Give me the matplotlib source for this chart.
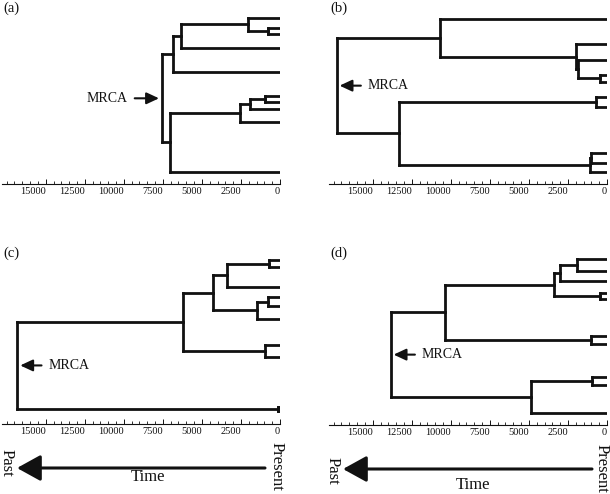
import matplotlib
matplotlib.use("Agg")
import matplotlib.pyplot as plt
from matplotlib.patches import FancyArrowPatch
from matplotlib.ticker import MultipleLocator

plt.rcParams['font.family'] = ['Liberation Serif', 'DejaVu Serif']

W, H = 610, 494
INK = '#111111'

# tip positions (vertical, rows inside each panel) and trees as (time, child, child, ...)
tips_a = [18, 28, 34, 48, 72, 96, 102, 109, 122, 172]
tree_a = (7570,
          (6870, (6340, (2030, 0, (750, 1, 2)), 3), 4),
          (7040, (2560, (1920, (960, 5, 6), 7), 8), 9))

tips_b = [19, 44, 60, 75, 82, 97, 107, 153, 163, 172]
tree_b = (17300,
          (10700, 0, (2000, 1, (1840, 2, (450, 3, 4)))),
          (13290, (700, 5, 6), (1090, (1020, 7, 8), 9)))

tips_c = [15, 22, 42, 52, 61, 74, 100, 112, 162, 166]
tree_c = (16810,
          (6230,
           (4270, (3410, (680, 0, 1), 2), (1450, (750, 3, 4), 5)),
           (960, 6, 7)),
          (130, 8, 9))

tips_d = [14, 26, 36, 48, 54, 91, 99, 132, 140, 168]
tree_d = (13840,
          (10370, (3370, (3010, (1920, 0, 1), 2), (450, 3, 4)), (1020, 5, 6)),
          (4860, (960, 7, 8), 9))

tick_values = [15000, 12500, 10000, 7500, 5000, 2500, 0]
tick_labels = ['15000', '12500', '10000', '7500', '5000', '2500', '0']

panels = [
    # label, tips, tree, left px, right px, top row, axis row, mrca text side
    ('(a)', tips_a, tree_a, 2, 280, 0, 184, 'left'),
    ('(b)', tips_b, tree_b, 329, 607, 0, 184, 'right'),
    ('(c)', tips_c, tree_c, 2, 280, 245, 424, 'right'),
    ('(d)', tips_d, tree_d, 329, 607, 245, 425, 'right'),
]

fig = plt.figure(figsize=(W / 100, H / 100), dpi=100)


def draw(ax, node, tips):
    """Draw a clade, return (time, y) of its node."""
    if isinstance(node, int):
        return 0, tips[node]
    t = node[0]
    kids = [draw(ax, k, tips) for k in node[1:]]
    ys = [k[1] for k in kids]
    for kt, ky in kids:
        ax.plot([t, kt], [ky, ky], color=INK, lw=2.0, solid_capstyle='projecting')
    ax.plot([t, t], [min(ys), max(ys)], color=INK, lw=2.0, solid_capstyle='projecting')
    return t, (min(ys) + max(ys)) / 2


for label, tips, tree, x0, x1, top, axrow, side in panels:
    ax = fig.add_axes([x0 / W, 1 - axrow / H, (x1 - x0) / W, (axrow - top - 2) / H])
    ax.set_xlim(17800, 0)
    ax.set_ylim(axrow - top, 2)
    root_t, root_y = draw(ax, tree, tips)

    for s in ['left', 'right', 'top']:
        ax.spines[s].set_visible(False)
    ax.spines['bottom'].set_linewidth(0.8)
    ax.spines['bottom'].set_color(INK)
    ax.set_yticks([])
    ax.set_xticks(tick_values)
    ax.set_xticklabels(tick_labels, fontsize=7.5, ha='right')
    ax.xaxis.set_minor_locator(MultipleLocator(500))
    ax.tick_params(axis='x', which='major', direction='in', length=3.5, width=0.7, pad=2.5, colors=INK)
    ax.tick_params(axis='x', which='minor', direction='in', length=2.2, width=0.6, colors=INK)

    if side == 'left':
        off, ha = -34, 'right'
    else:
        off, ha = 31, 'left'
    ax.annotate('MRCA', xy=(root_t, root_y), xytext=(off, 0), textcoords='offset pixels',
                ha=ha, va='center', fontsize=10, color=INK,
                arrowprops=dict(arrowstyle='-|>,head_length=0.75,head_width=0.35',
                                color=INK, lw=1.5, shrinkA=3, shrinkB=2))

    fig.text((x0 + 1) / W, 1 - (top + 8) / H, label, fontsize=10.5, ha='left', va='center',
             color=INK)

# time arrows below the lower panels
arrows = [
    # tail x, head x, row, past x, past row, present x, present row, time x, time row
    (265, 17, 468, 7, 463, 277, 466, 148, 477),
    (592, 343, 469, 333, 471, 602, 468, 473, 485),
]
for tx, hx, row, px, pr, qx, qr, mx, mr in arrows:
    fig.add_artist(FancyArrowPatch((tx, H - row), (hx, H - row), transform=None,
                                   arrowstyle='-|>,head_length=1.45,head_width=0.8',
                                   mutation_scale=10, lw=2.2, color=INK,
                                   shrinkA=0, shrinkB=0))
    fig.text(px / W, 1 - pr / H, 'Past', rotation=-90, fontsize=12, ha='center', va='center',
             color=INK)
    fig.text(qx / W, 1 - qr / H, 'Present', rotation=-90, fontsize=12, ha='center',
             va='center', color=INK)
    fig.text(mx / W, 1 - mr / H, 'Time', fontsize=12, ha='center', va='center', color=INK)

fig.savefig('out.png', dpi=100, facecolor='white')
